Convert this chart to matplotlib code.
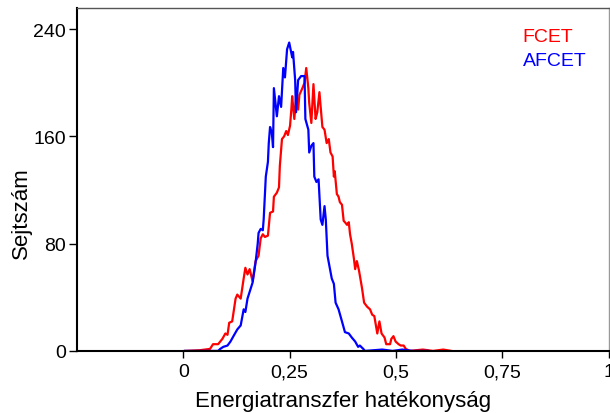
import matplotlib
matplotlib.use("Agg")
import matplotlib.pyplot as plt

plt.rcParams['font.family'] = ['Liberation Sans', 'DejaVu Sans']

# FCET histogram (red)
fcet_x = [0.004, 0.039, 0.063, 0.070, 0.082, 0.092, 0.099, 0.104, 0.108, 0.115,
          0.123, 0.127, 0.135, 0.142, 0.146, 0.151, 0.156, 0.163, 0.170, 0.177,
          0.182, 0.187, 0.192, 0.199, 0.204, 0.211, 0.213, 0.220, 0.225, 0.227,
          0.232, 0.237, 0.242, 0.246, 0.251, 0.254, 0.256, 0.261, 0.265, 0.270,
          0.273, 0.280, 0.285, 0.289, 0.294, 0.296, 0.301, 0.306, 0.311, 0.315,
          0.320, 0.327, 0.332, 0.337, 0.342, 0.346, 0.351, 0.354, 0.356, 0.361,
          0.365, 0.368, 0.373, 0.377, 0.380, 0.385, 0.389, 0.392, 0.396, 0.401,
          0.404, 0.408, 0.413, 0.420, 0.425, 0.432, 0.439, 0.444, 0.449, 0.456,
          0.461, 0.466, 0.473, 0.477, 0.486, 0.489, 0.494, 0.499, 0.506, 0.511,
          0.518, 0.523, 0.532, 0.563, 0.587, 0.611, 0.630]
fcet_y = [0, 0.5, 1.5, 5, 5, 9, 13, 12, 21, 22,
          39, 42, 39, 54, 62, 57, 61, 52, 67, 71,
          84, 87, 85, 86, 103, 104, 115, 118, 122, 138,
          158, 160, 164, 161, 168, 180, 190, 173, 188, 180,
          191, 196, 200, 211, 196, 185, 170, 199, 173, 178,
          193, 167, 165, 155, 158, 148, 145, 130, 134, 117,
          115, 111, 109, 97, 96, 94, 96, 87, 80, 69,
          61, 67, 60, 47, 36, 33, 31, 27, 26, 13,
          22, 13, 10, 5, 5, 9, 11, 7, 5, 4,
          4, 1.5, 0, 1, 0, 1, 0]

# AFCET histogram (blue)
afcet_x = [0.004, 0.082, 0.087, 0.094, 0.104, 0.111, 0.118, 0.127, 0.135, 0.142,
           0.146, 0.151, 0.158, 0.163, 0.170, 0.175, 0.177, 0.182, 0.187, 0.189,
           0.194, 0.199, 0.201, 0.204, 0.208, 0.211, 0.213, 0.220, 0.225, 0.230,
           0.235, 0.239, 0.244, 0.249, 0.256, 0.258, 0.263, 0.265, 0.270, 0.277,
           0.285, 0.287, 0.294, 0.296, 0.301, 0.306, 0.308, 0.313, 0.318, 0.323,
           0.327, 0.332, 0.335, 0.339, 0.349, 0.354, 0.358, 0.365, 0.373, 0.380,
           0.389, 0.396, 0.404, 0.411, 0.415, 0.423, 0.427, 0.468, 0.492, 0.515,
           0.539, 0.575]
afcet_y = [0, 0, 1.5, 3, 4, 7, 11, 16, 19, 31,
           29, 39, 46, 51, 66, 80, 88, 91, 90, 98,
           130, 141, 155, 167, 163, 152, 196, 175, 190, 182,
           211, 204, 225, 230, 219, 223, 202, 178, 202, 205,
           205, 173, 165, 148, 153, 155, 130, 126, 128, 98,
           94, 108, 98, 71, 54, 50, 36, 31, 22, 14,
           13, 10, 7, 3, 4, 1.5, 0, 1, 0, 1,
           0, 0]

xticks = [0, 0.25, 0.5, 0.75, 1]
xticklabels = ['0', '0,25', '0,5', '0,75', '1']
yticks = [0, 80, 160, 240]

fig = plt.figure(figsize=(6.1, 4.14), dpi=100)
ax = fig.add_axes([0.126, 0.150, 0.872, 0.829])

ax.plot(fcet_x, fcet_y, color='#ff0000', lw=1.6)
ax.plot(afcet_x, afcet_y, color='#0000ff', lw=1.6)

ax.set_xlim(-0.25, 1)
ax.set_ylim(0, 256)
ax.set_xticks(xticks)
ax.set_xticklabels(xticklabels)
ax.set_yticks(yticks)
ax.tick_params(axis='both', direction='out', labelsize=14, width=1, color='black')
ax.tick_params(axis='y', length=6, pad=2)
ax.tick_params(axis='x', length=5, pad=4)

for s in ['left', 'bottom']:
    ax.spines[s].set_linewidth(1.5)
    ax.spines[s].set_color('black')
ax.spines['top'].set_color('#555555')
ax.spines['top'].set_linewidth(1)
ax.spines['right'].set_color('#999999')
ax.spines['right'].set_linewidth(1)

ax.set_xlabel('Energiatranszfer hatékonyság', fontsize=16)
ax.set_ylabel('Sejtszám', fontsize=16)
ax.xaxis.set_label_coords(0.5, -0.115)
ax.yaxis.set_label_coords(-0.084, 0.405)

ax.text(0.838, 0.94, 'FCET', color='#ff0000', fontsize=14, transform=ax.transAxes, va='top')
ax.text(0.838, 0.872, 'AFCET', color='#0000ff', fontsize=14, transform=ax.transAxes, va='top')

fig.savefig('out.png', dpi=100)
